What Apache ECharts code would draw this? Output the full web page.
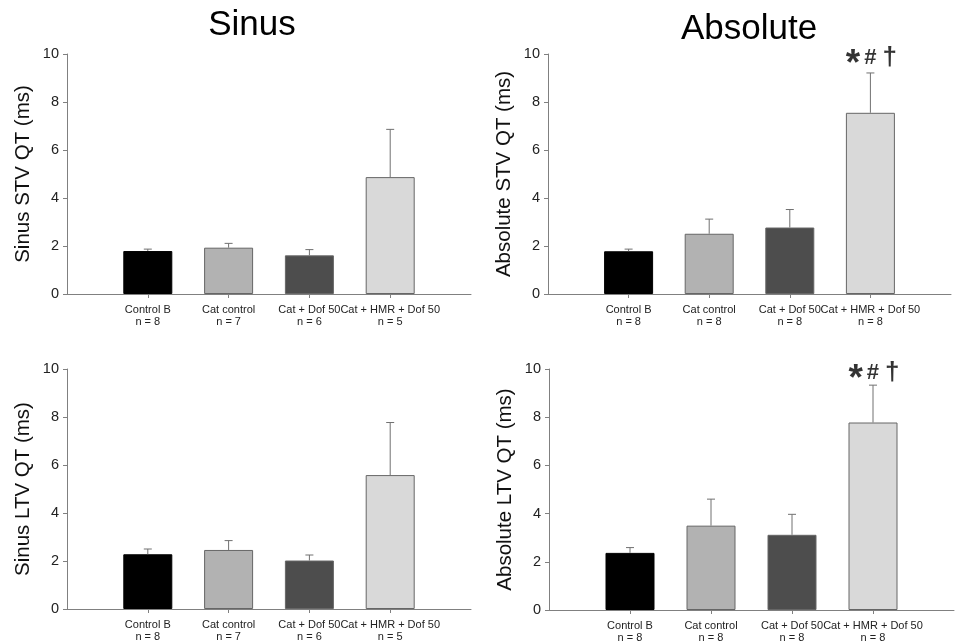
<!DOCTYPE html>
<html>
<head>
<meta charset="utf-8">
<script src="https://cdn.jsdelivr.net/npm/echarts@6/dist/echarts.min.js"></script>
<style>
  html, body { margin: 0; padding: 0; background: #fff; }
  #chart { width: 961px; height: 641px; }
</style>
</head>
<body>
<div id="chart"></div>
<script>
// groups on the x axis
const groups = ['Control B', 'Cat control', 'Cat + Dof 50', 'Cat + HMR + Dof 50']
const barColors = ['#000000', '#b2b2b2', '#4d4d4d', '#d9d9d9']
const yTicks = [0, 2, 4, 6, 8, 10]

// sample sizes
const nSinus = [8, 7, 6, 5]
const nAbsolute = [8, 8, 8, 8]

// means and upper SEM bounds (ms)
const sinusStvMean = [1.79, 1.93, 1.61, 4.87]
const sinusStvTop = [1.87, 2.11, 1.85, 6.86]
const absStvMean = [1.78, 2.51, 2.77, 7.55]
const absStvTop = [1.87, 3.12, 3.52, 9.21]
const sinusLtvMean = [2.28, 2.46, 2.02, 5.58]
const sinusLtvTop = [2.50, 2.85, 2.25, 7.77]
const absLtvMean = [2.37, 3.50, 3.12, 7.78]
const absLtvTop = [2.59, 4.60, 3.97, 9.33]

// significance marks
const absMarks = ['', '', '', '*#†']

const font = 'Arial, "Liberation Sans", sans-serif'

const panels = [
  { name: 'Sinus STV QT (ms)', mean: sinusStvMean, top: sinusStvTop, n: nSinus, marks: null,
    grid: { left: 67, top: 54, width: 404, height: 240 } },
  { name: 'Absolute STV QT (ms)', mean: absStvMean, top: absStvTop, n: nAbsolute, marks: absMarks,
    grid: { left: 548, top: 54, width: 403, height: 240 } },
  { name: 'Sinus LTV QT (ms)', mean: sinusLtvMean, top: sinusLtvTop, n: nSinus, marks: null,
    grid: { left: 67, top: 369, width: 404, height: 240 } },
  { name: 'Absolute LTV QT (ms)', mean: absLtvMean, top: absLtvTop, n: nAbsolute, marks: absMarks,
    grid: { left: 549, top: 369, width: 405, height: 241 } }
]

const chart = echarts.init(document.getElementById('chart'))

const grids = []
const xAxes = []
const yAxes = []
const series = []

panels.forEach((p, i) => {
  // keep the grid where it is even though the bottom labels run to the edge
  grids.push(Object.assign({ outerBoundsMode: 'none', containLabel: false }, p.grid))
  // empty slots at both ends so the bars sit on the inner points
  const cats = [''].concat(groups.map((g, k) => g + '\nn = ' + p.n[k]), [''])
  xAxes.push({
    gridIndex: i,
    type: 'category',
    data: cats,
    boundaryGap: false,
    axisLine: { lineStyle: { color: '#808080', width: 1 } },
    axisTick: { length: 4, lineStyle: { color: '#808080' }, interval: idx => idx > 0 && idx < cats.length - 1 },
    axisLabel: { interval: 0, color: '#222', fontSize: 11, lineHeight: 12, fontFamily: font, margin: 10 }
  })
  yAxes.push({
    gridIndex: i,
    type: 'value',
    min: yTicks[0],
    max: yTicks[yTicks.length - 1],
    interval: 2,
    name: p.name,
    nameLocation: 'middle',
    nameGap: 33,
    nameTextStyle: { fontSize: 20.5, color: '#111', fontFamily: font },
    axisLine: { show: true, lineStyle: { color: '#808080', width: 1 } },
    axisTick: { show: true, length: 4, lineStyle: { color: '#808080' } },
    splitLine: { show: false },
    axisLabel: { color: '#222', fontSize: 14.5, fontFamily: font, margin: 8 }
  })

  const barData = [null].concat(p.mean.map((v, k) => ({
    value: v,
    itemStyle: {
      color: barColors[k],
      borderColor: k === 0 ? '#000' : '#666',
      borderWidth: 1
    }
  })), [null])

  series.push({
    type: 'bar',
    xAxisIndex: i,
    yAxisIndex: i,
    barWidth: 49,
    data: barData,
    silent: true
  })

  // upward error bars with a short cap
  series.push({
    type: 'custom',
    xAxisIndex: i,
    yAxisIndex: i,
    silent: true,
    data: p.mean.map((v, k) => [k + 1, v, p.top[k]]),
    renderItem: (params, api) => {
      const base = api.coord([api.value(0), api.value(1)])
      const top = api.coord([api.value(0), api.value(2)])
      const style = { stroke: '#707070', lineWidth: 1 }
      return {
        type: 'group',
        children: [
          { type: 'line', shape: { x1: base[0], y1: base[1], x2: top[0], y2: top[1] }, style },
          { type: 'line', shape: { x1: top[0] - 4, y1: top[1], x2: top[0] + 4, y2: top[1] }, style }
        ]
      }
    },
    z: 3
  })

  // significance marks above the error bars
  if (p.marks) {
    series.push({
      type: 'scatter',
      xAxisIndex: i,
      yAxisIndex: i,
      silent: true,
      clip: false,
      symbolSize: 1,
      itemStyle: { color: 'rgba(0,0,0,0)' },
      data: p.marks.map((m, k) => m ? { value: [k + 1, 9.83], mark: m } : null).filter(Boolean),
      label: {
        show: true,
        position: 'inside',
        offset: [1, 0],
        formatter: '{a|*}{b|#}{c|†}',
        rich: {
          a: { fontSize: 37, fontWeight: 'bold', color: '#000', fontFamily: font, padding: [14, 4, 0, 0] },
          b: { fontSize: 22, fontWeight: 'bold', color: '#000', fontFamily: font, padding: [0, 6, 0, 0] },
          c: { fontSize: 26, color: '#000', fontFamily: font, fontWeight: 'bold' }
        }
      }
    })
  }
})

chart.setOption({
  animation: false,
  backgroundColor: '#fff',
  title: [
    { text: 'Sinus', left: 247, top: 3, textAlign: 'center',
      textStyle: { fontSize: 35, fontWeight: 'normal', color: '#000', fontFamily: font } },
    { text: 'Absolute', left: 744, top: 7, textAlign: 'center',
      textStyle: { fontSize: 35, fontWeight: 'normal', color: '#000', fontFamily: font } }
  ],
  grid: grids,
  xAxis: xAxes,
  yAxis: yAxes,
  series: series
})
</script>
</body>
</html>
